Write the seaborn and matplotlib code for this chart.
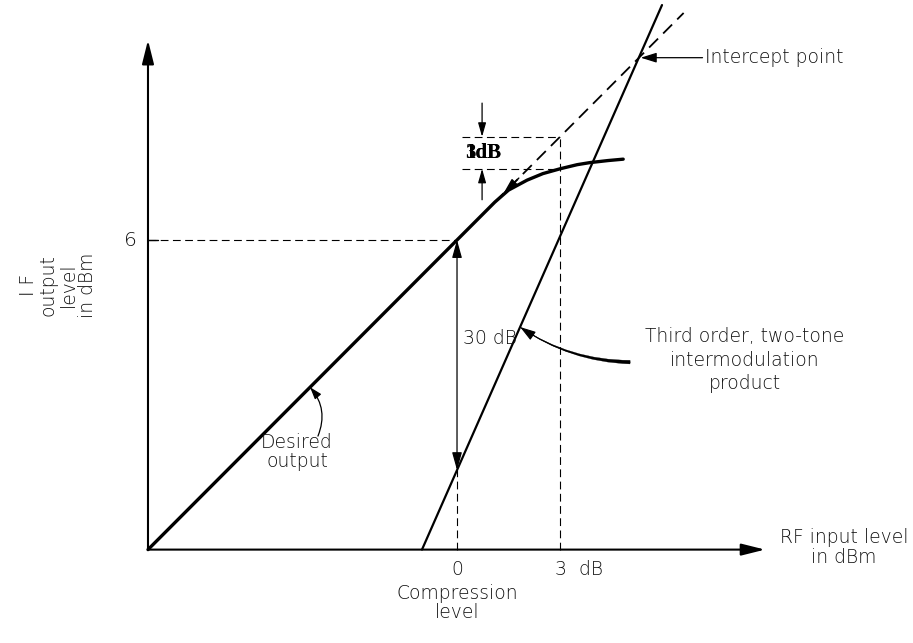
import numpy as np
import pandas as pd
import matplotlib
matplotlib.use("Agg")
import matplotlib.pyplot as plt
import seaborn as sns

# ---------------- data (schematic, in dB units) ----------------
desired_x = [-9.0, 1.1]                       # linear region of desired output
desired_y = [-3.0, 7.1]
comp_x = [1.1, 1.5, 2.04, 2.5, 3.0, 3.5, 3.87, 4.4, 4.84]   # compression region
comp_y = [7.1, 7.45, 7.74, 7.93, 8.07, 8.19, 8.25, 8.31, 8.35]
ext_x = [1.1, 6.6]                            # dashed extrapolation of desired output
ext_y = [7.1, 12.6]
im3_x = [-1.02, 5.97]                         # third-order intermodulation product
im3_y = [-3.0, 12.83]
intercept_pt = (5.3, 11.3)
origin = (-9.0, -3.0)
x_axis_end = 8.97
y_axis_end = 11.81
ref_level = 6                                 # output level "6"
comp_level = 0                                # compression level
comp_3db = 3
x_tick_vals = [0, 3]
x_tick_labels = ["0", "3  dB"]
y_tick_vals = [6]
y_tick_labels = ["6"]

sns.set_theme(style="white")
plt.rcParams["font.family"] = ["DejaVu Sans"]
TXT = "#111111"
FS = 13.5
FW = "light"

fig = plt.figure(figsize=(9.13, 6.43), dpi=100)
ax = fig.add_axes([0, 0, 1, 1])
ax.set_xlim(-13.31, 13.28)
ax.set_ylim(-5.715, 12.977)
ax.axis("off")

# main solid curve: desired output (linear + compression)
curve = pd.DataFrame({"x": desired_x + comp_x[1:], "y": desired_y + comp_y[1:]})
sns.lineplot(data=curve, x="x", y="y", sort=False, ax=ax, color="black",
             lw=2.4, solid_joinstyle="round", solid_capstyle="round")

# third order product
im3 = pd.DataFrame({"x": im3_x, "y": im3_y})
sns.lineplot(data=im3, x="x", y="y", sort=False, ax=ax, color="black", lw=1.6)

# dashed extrapolation of desired output
ext = pd.DataFrame({"x": ext_x, "y": ext_y})
sns.lineplot(data=ext, x="x", y="y", sort=False, ax=ax, color="black", lw=1.3,
             linestyle=(0, (7, 4)))

# axes with arrows
ax.annotate("", xy=(x_axis_end, origin[1]), xytext=origin,
            arrowprops=dict(arrowstyle="-|>,head_length=1.2,head_width=0.3", color="black", lw=1.5,
                            shrinkA=0, shrinkB=0))
ax.annotate("", xy=(origin[0], y_axis_end), xytext=origin,
            arrowprops=dict(arrowstyle="-|>,head_length=1.2,head_width=0.3", color="black", lw=1.5,
                            shrinkA=0, shrinkB=0))

im3_at_0 = float(np.interp(comp_level, im3_x, im3_y))
ext_at_3 = float(np.interp(comp_3db, ext_x, ext_y))
curve_at_3 = float(np.interp(comp_3db, comp_x, comp_y))

dash = (0, (7, 4))
# horizontal dashed at 6
ax.plot([origin[0], comp_level], [ref_level, ref_level], color="black", lw=0.8, ls=dash)
ax.plot([origin[0], origin[0] + 0.3], [ref_level, ref_level], color="black", lw=1.0)
# vertical dashed at 0 (from axis up to IM3 line)
ax.plot([comp_level, comp_level], [origin[1], im3_at_0], color="black", lw=0.8, ls=dash)
# vertical dashed at 3
ax.plot([comp_3db, comp_3db], [origin[1], ext_at_3], color="black", lw=0.8, ls=dash)
# 1 dB horizontal dashed
ax.plot([0.15, comp_3db], [ext_at_3, ext_at_3], color="black", lw=0.8, ls=dash)
ax.plot([0.15, comp_3db], [curve_at_3, curve_at_3], color="black", lw=0.8, ls=dash)

# 30 dB double arrow
ax.annotate("", xy=(comp_level, im3_at_0), xytext=(comp_level, ref_level),
            arrowprops=dict(arrowstyle="<|-|>,head_length=0.9,head_width=0.25", color="black",
                            lw=0.9, shrinkA=0, shrinkB=0))
ax.text(0.17, 3.15, "30 dB", fontsize=FS, fontweight=FW, color=TXT, ha="left", va="center")

# 1 dB arrows
ax.annotate("", xy=(0.73, ext_at_3), xytext=(0.73, ext_at_3 + 0.98),
            arrowprops=dict(arrowstyle="-|>,head_length=0.7,head_width=0.2", color="black",
                            lw=0.9, shrinkA=0, shrinkB=0))
ax.annotate("", xy=(0.73, curve_at_3), xytext=(0.73, curve_at_3 - 0.9),
            arrowprops=dict(arrowstyle="-|>,head_length=0.7,head_width=0.2", color="black",
                            lw=0.9, shrinkA=0, shrinkB=0))
for lab in ["1dB", "3dB"]:
    ax.text(0.76, (ext_at_3 + curve_at_3) / 2, lab, fontsize=15, color="black",
            family="Liberation Serif", fontweight="bold", ha="center", va="center")

# arrowhead on extrapolation near the knee
ax.annotate("", xy=(1.35, float(np.interp(1.35, ext_x, ext_y))),
            xytext=(1.8, float(np.interp(1.8, ext_x, ext_y))),
            arrowprops=dict(arrowstyle="-|>,head_length=0.8,head_width=0.22", color="black",
                            lw=1.0, shrinkA=0, shrinkB=0))

# tick labels
for v, lab in zip(x_tick_vals, x_tick_labels):
    ax.text(v - 0.15 if v else v, -3.59, lab, fontsize=FS, fontweight=FW, color=TXT,
            ha="left" if v else "center", va="center")
for v, lab in zip(y_tick_vals, y_tick_labels):
    ax.text(-9.52, v, lab, fontsize=FS + 1, fontweight=FW, color=TXT, ha="center", va="center")

# axis titles
ax.text(-11.62, 4.69, "I F\noutput\nlevel\nin dBm", rotation=90, fontsize=FS, fontweight=FW,
        color=TXT, ha="center", va="center", multialignment="center", linespacing=1.05)
ax.text(11.27, -2.94, "RF input level\nin dBm", fontsize=FS, fontweight=FW, color=TXT,
        ha="center", va="center", multialignment="center", linespacing=1.05)
ax.text(comp_level, -4.55, "Compression\nlevel", fontsize=FS, fontweight=FW, color=TXT,
        ha="center", va="center", multialignment="center", linespacing=1.0)

# Desired output label
ax.text(-4.66, -0.16, "Desired\noutput", fontsize=FS, fontweight=FW, color=TXT, ha="center",
        va="center", multialignment="center", linespacing=1.05)
ax.annotate("", xy=(-4.28, 1.72), xytext=(-4.05, 0.30),
            arrowprops=dict(arrowstyle="-|>,head_length=0.6,head_width=0.2", color="black",
                            lw=0.9, connectionstyle="arc3,rad=0.3", shrinkA=0, shrinkB=0))

# Third order label with tapered (thick-tailed) arrow
ax.text(8.39, 2.51, "Third order, two-tone\nintermodulation\nproduct", fontsize=FS,
        fontweight=FW, color=TXT, ha="center", va="center", multialignment="center",
        linespacing=1.3)
tip_y = 3.47
tip_x = float(np.interp(tip_y, im3_y, im3_x))
tail = (5.04, 2.45)
ax.annotate("", xy=(tip_x, tip_y), xytext=tail,
            arrowprops=dict(arrowstyle="wedge,tail_width=0.22,shrink_factor=0.5",
                            color="black", lw=0.2, connectionstyle="arc3,rad=-0.15",
                            shrinkA=0, shrinkB=0))
ax.annotate("", xy=(tip_x, tip_y), xytext=tail,
            arrowprops=dict(arrowstyle="-|>,head_length=0.8,head_width=0.25", color="black",
                            lw=0.8, connectionstyle="arc3,rad=-0.15", shrinkA=0, shrinkB=0))

# Intercept point label
ax.text(7.22, intercept_pt[1], "Intercept point", fontsize=FS, fontweight=FW, color=TXT,
        ha="left", va="center")
ax.annotate("", xy=(intercept_pt[0] + 0.05, intercept_pt[1]), xytext=(7.15, intercept_pt[1]),
            arrowprops=dict(arrowstyle="-|>,head_length=0.8,head_width=0.25", color="black",
                            lw=0.9, shrinkA=0, shrinkB=0))

fig.savefig("out.png", dpi=100, facecolor="white")
